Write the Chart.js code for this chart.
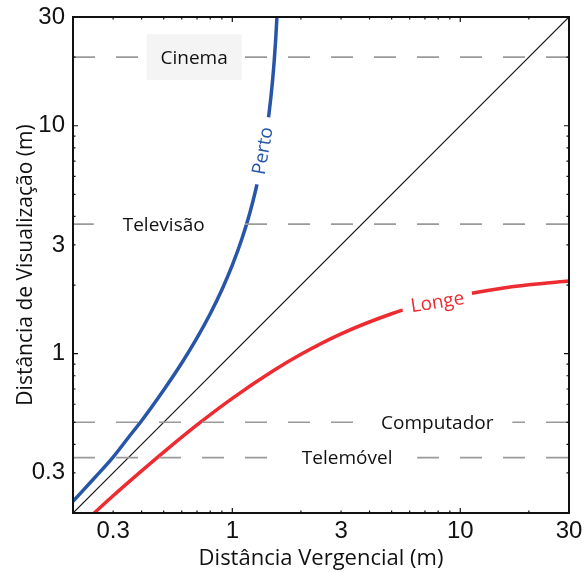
<!DOCTYPE html>
<html>
<head>
<meta charset="utf-8">
<script src="https://cdn.jsdelivr.net/npm/chart.js@4/dist/chart.umd.min.js"></script>
<style>
  body { margin: 0; background: #fff; }
  canvas { display: block; }
</style>
</head>
<body>
<canvas id="chart" width="585" height="572"></canvas>
<script>
// curva "Perto" (limite proximo)
const pertoX = [0.2, 0.25, 0.3, 0.35, 0.4, 0.5, 0.6, 0.7, 0.8, 0.9, 1.0, 1.1, 1.2, 1.3, 1.4, 1.45, 1.5, 1.53, 1.55, 1.575];
const pertoY = [0.225, 0.287, 0.352, 0.429, 0.508, 0.693, 0.910, 1.173, 1.497, 1.908, 2.445, 3.176, 4.228, 5.876, 8.83, 11.39, 15.6, 19.8, 24.0, 32.1];

// curva "Longe" (limite afastado)
const longeX = [0.2, 0.25, 0.3, 0.4, 0.5, 0.7, 1, 1.5, 2, 3, 5, 7, 10, 15, 20, 30];
const longeY = [0.164, 0.2017, 0.238, 0.306, 0.370, 0.487, 0.637, 0.837, 0.994, 1.222, 1.497, 1.658, 1.802, 1.933, 2.006, 2.085];

// diagonal
const diagX = [0.2, 30];
const diagY = [0.2, 30];

// distancias de visualizacao tipicas
const viewNames = ['Cinema', 'Televisão', 'Computador', 'Telemóvel'];
const viewDist = [20, 3.7, 0.5, 0.35];

const tickValues = [0.2, 0.3, 0.4, 0.5, 0.6, 0.7, 0.8, 0.9, 1, 2, 3, 4, 5, 6, 7, 8, 9, 10, 20, 30];
const tickLabels = [0.3, 1, 3, 10, 30];

const blue = '#2756a8';
const red = '#ee2b31';

const pts = (xs, ys) => xs.map((x, i) => ({x: x, y: ys[i]}));

const datasets = [];
viewDist.forEach(d => {
  datasets.push({
    data: pts([0.2, 30], [d, d]),
    borderColor: '#9a9a9a',
    borderWidth: 1.6,
    borderDash: [22, 21],
    pointRadius: 0
  });
});
datasets.push({data: pts(diagX, diagY), borderColor: '#111', borderWidth: 1.2, pointRadius: 0});
datasets.push({data: pts(pertoX, pertoY), borderColor: blue, borderWidth: 3.5, pointRadius: 0, cubicInterpolationMode: 'monotone'});
datasets.push({data: pts(longeX, longeY), borderColor: red, borderWidth: 3.5, pointRadius: 0, cubicInterpolationMode: 'monotone'});
datasets.forEach(ds => { ds.showLine = true; ds.clip = 0; ds.fill = false; });

// caixas de texto (posicao em coordenadas de dados)
const notes = [
  {text: viewNames[0], x: 0.68, y: viewDist[0], w: 95, h: 46, bg: '#f4f4f4', color: '#111', rot: 0},
  {text: viewNames[1], x: 0.5, y: viewDist[1], w: 140, h: 16, bg: '#fff', color: '#111', rot: 0},
  {text: viewNames[2], x: 7.93, y: viewDist[2], w: 150, h: 16, bg: '#fff', color: '#111', rot: 0},
  {text: viewNames[3], x: 3.19, y: viewDist[3], w: 140, h: 16, bg: '#fff', color: '#111', rot: 0},
  {text: 'Perto', x: 1.354, y: 7.77, w: 68, h: 14, bg: '#fff', color: blue, rot: -80},
  {text: 'Longe', x: 7.93, y: 1.69, w: 71, h: 14, bg: '#fff', color: red, rot: -9}
];

const isDecade = v => Math.abs(Math.log10(v) - Math.round(Math.log10(v))) < 1e-6;

const framePlugin = {
  id: 'frame',
  afterDatasetsDraw(chart) {
    const ctx = chart.ctx;
    const xs = chart.scales.x, ys = chart.scales.y;
    ctx.save();
    notes.forEach(n => {
      const px = xs.getPixelForValue(n.x), py = ys.getPixelForValue(n.y);
      ctx.save();
      ctx.translate(px, py);
      ctx.rotate(n.rot * Math.PI / 180);
      ctx.fillStyle = n.bg;
      ctx.fillRect(-n.w / 2, -n.h / 2, n.w, n.h);
      ctx.fillStyle = n.color;
      ctx.font = '19px "Open Sans"';
      ctx.textAlign = 'center';
      ctx.textBaseline = 'middle';
      ctx.fillText(n.text, 0, 1);
      ctx.restore();
    });
    ctx.restore();
  },
  afterDraw(chart) {
    const ctx = chart.ctx;
    const a = chart.chartArea;
    const xs = chart.scales.x, ys = chart.scales.y;
    ctx.save();
    ctx.strokeStyle = '#111';
    ctx.lineWidth = 1.2;
    ctx.beginPath();
    tickValues.forEach(v => {
      const len = isDecade(v) ? 5 : 2.5;
      const px = xs.getPixelForValue(v);
      ctx.moveTo(px, a.bottom); ctx.lineTo(px, a.bottom - len);
      ctx.moveTo(px, a.top); ctx.lineTo(px, a.top + len);
      const py = ys.getPixelForValue(v);
      ctx.moveTo(a.left, py); ctx.lineTo(a.left + len, py);
      ctx.moveTo(a.right, py); ctx.lineTo(a.right - len, py);
    });
    ctx.stroke();
    ctx.lineWidth = 2;
    ctx.strokeRect(a.left, a.top, a.right - a.left, a.bottom - a.top);
    ctx.restore();
  }
};

const axis = (titleText, titleSize, pad, lh) => ({
  type: 'logarithmic',
  min: 0.2,
  max: 30,
  grid: {display: false, drawTicks: false},
  border: {display: false},
  afterBuildTicks: scale => { scale.ticks = tickValues.map(v => ({value: v})); },
  ticks: {
    autoSkip: false,
    maxRotation: 0,
    padding: pad,
    color: '#111',
    font: {family: '"Liberation Sans", Arial, sans-serif', size: 24, lineHeight: lh},
    callback: v => tickLabels.includes(v) ? String(v) : ''
  },
  title: {
    display: true,
    text: titleText,
    color: '#111',
    font: {family: '"Open Sans", sans-serif', size: titleSize}
  }
});

const xAxis = axis('Distância Vergencial (m)', 22, 2, 1.4);
xAxis.title.padding = {top: 0, bottom: 0};
xAxis.afterFit = s => { s.height = 59; };
const yAxis = axis('Distância de Visualização (m)', 21, 8, 0.7);
yAxis.title.padding = {top: 13, bottom: 0};
yAxis.afterFit = s => { s.width = 73; };

new Chart(document.getElementById('chart'), {
  type: 'scatter',
  data: {datasets: datasets},
  options: {
    responsive: false,
    devicePixelRatio: 1,
    animation: false,
    layout: {padding: {top: 17, right: 16, left: 0, bottom: 0}},
    plugins: {legend: {display: false}, tooltip: {enabled: false}},
    scales: {x: xAxis, y: yAxis}
  },
  plugins: [framePlugin]
});
</script>
</body>
</html>
